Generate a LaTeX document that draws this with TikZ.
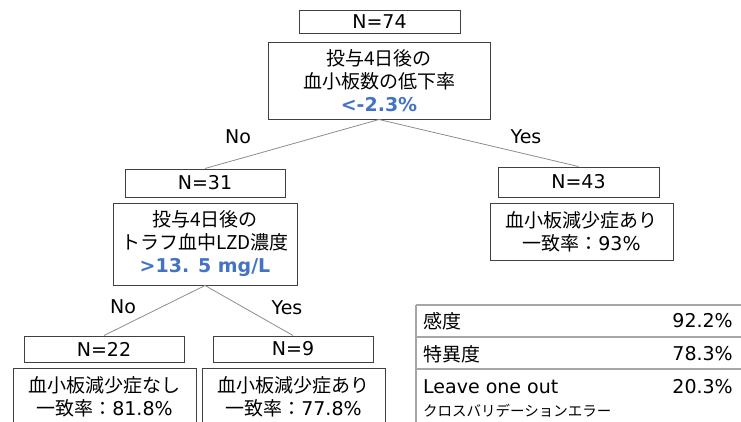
\documentclass[tikz,border=0pt]{standalone}
\usepackage{fontspec}
\setmainfont{DejaVu Sans}
\newfontfamily\jp{Noto Sans CJK JP}
\definecolor{boxc}{HTML}{404040}
\definecolor{linec}{HTML}{8C8C8C}
\definecolor{tabc}{HTML}{A6A6A6}
\definecolor{blu}{HTML}{4472C4}
\newcommand\fsz{\fontsize{19}{23}\selectfont}
\newcommand\fsmall{\fontsize{14.5}{17}\selectfont}
\begin{document}
\begin{tikzpicture}[x=1pt,y=-1pt,
  box/.style={draw=boxc, line width=1pt, inner sep=0pt, align=center, font=\fsz, text=black},
  edge/.style={draw=linec, line width=0.8pt},
  lbl/.style={font=\fsz, inner sep=0pt, text=black},
  cell/.style={font=\fsz, inner sep=0pt, text=black},
  tline/.style={draw=tabc, line width=1.3pt}]
\useasboundingbox (0,0) rectangle (741,421);
\clip (0,0) rectangle (741,421);
% root
\node[box, minimum width=161pt, minimum height=23pt] (n74) at (379.5,21.5) {N=74};
\node[box, minimum width=222pt, minimum height=77pt] (q1) at (379,80.5)
  {{\jp 投与4日後の}\\{\jp 血小板数の低下率}\\{\bfseries\color{blu}<-2.3\%}};
% left branch
\node[box, minimum width=160pt, minimum height=28pt] (n31) at (205,183) {N=31};
\node[box, minimum width=184pt, minimum height=82pt] (q2) at (205,244)
  {{\jp 投与4日後の}\\{\jp トラフ血中LZD濃度}\\{\bfseries\color{blu}>13. 5 mg/L}};
% right branch
\node[box, minimum width=161pt, minimum height=30pt] (n43) at (578.5,182) {N=43};
\node[box, minimum width=183pt, minimum height=57pt] (r43) at (581.5,231.5)
  {{\jp 血小板減少症あり}\\{\jp 一致率：}93\%};
% leaves
\node[box, minimum width=160pt, minimum height=26pt] (n22) at (104,349) {N=22};
\node[box, minimum width=183pt, minimum height=57pt] (r22) at (104.5,396.5)
  {{\jp 血小板減少症なし}\\{\jp 一致率：}81.8\%};
\node[box, minimum width=160pt, minimum height=26pt] (n9) at (293,349) {N=9};
\node[box, minimum width=183pt, minimum height=57pt] (r9) at (293.5,396.5)
  {{\jp 血小板減少症あり}\\{\jp 一致率：}77.8\%};
% connectors
\draw[edge] (q1.south) -- (n31.north);
\draw[edge] (q1.south) -- (n43.north);
\draw[edge] (q2.south) -- (n22.north);
\draw[edge] (q2.south) -- (n9.north);
\node[lbl] (l1) at (238,137) {No};
\node[lbl] (l2) at (526,137) {Yes};
\node[lbl] (l3) at (123,307) {No};
\node[lbl] (l4) at (287,308) {Yes};
% table
\draw[tline] (416,305) -- (745,305);
\draw[tline] (416,337) -- (745,337);
\draw[tline] (416,369) -- (745,369);
\draw[tline] (416,305) -- (416,425);
\node[cell, anchor=west] (t1) at (423,321) {\jp 感度};
\node[cell, anchor=east] (v1) at (733,321) {92.2\%};
\node[cell, anchor=west] (t2) at (423,354) {\jp 特異度};
\node[cell, anchor=east] (v2) at (733,354) {78.3\%};
\node[cell, anchor=west] (t3) at (423,387) {Leave one out};
\node[cell, anchor=west, font=\fsmall] (t3b) at (423,411) {\jp クロスバリデーションエラー};
\node[cell, anchor=east] (v3) at (733,387) {20.3\%};
\end{tikzpicture}
\end{document}
